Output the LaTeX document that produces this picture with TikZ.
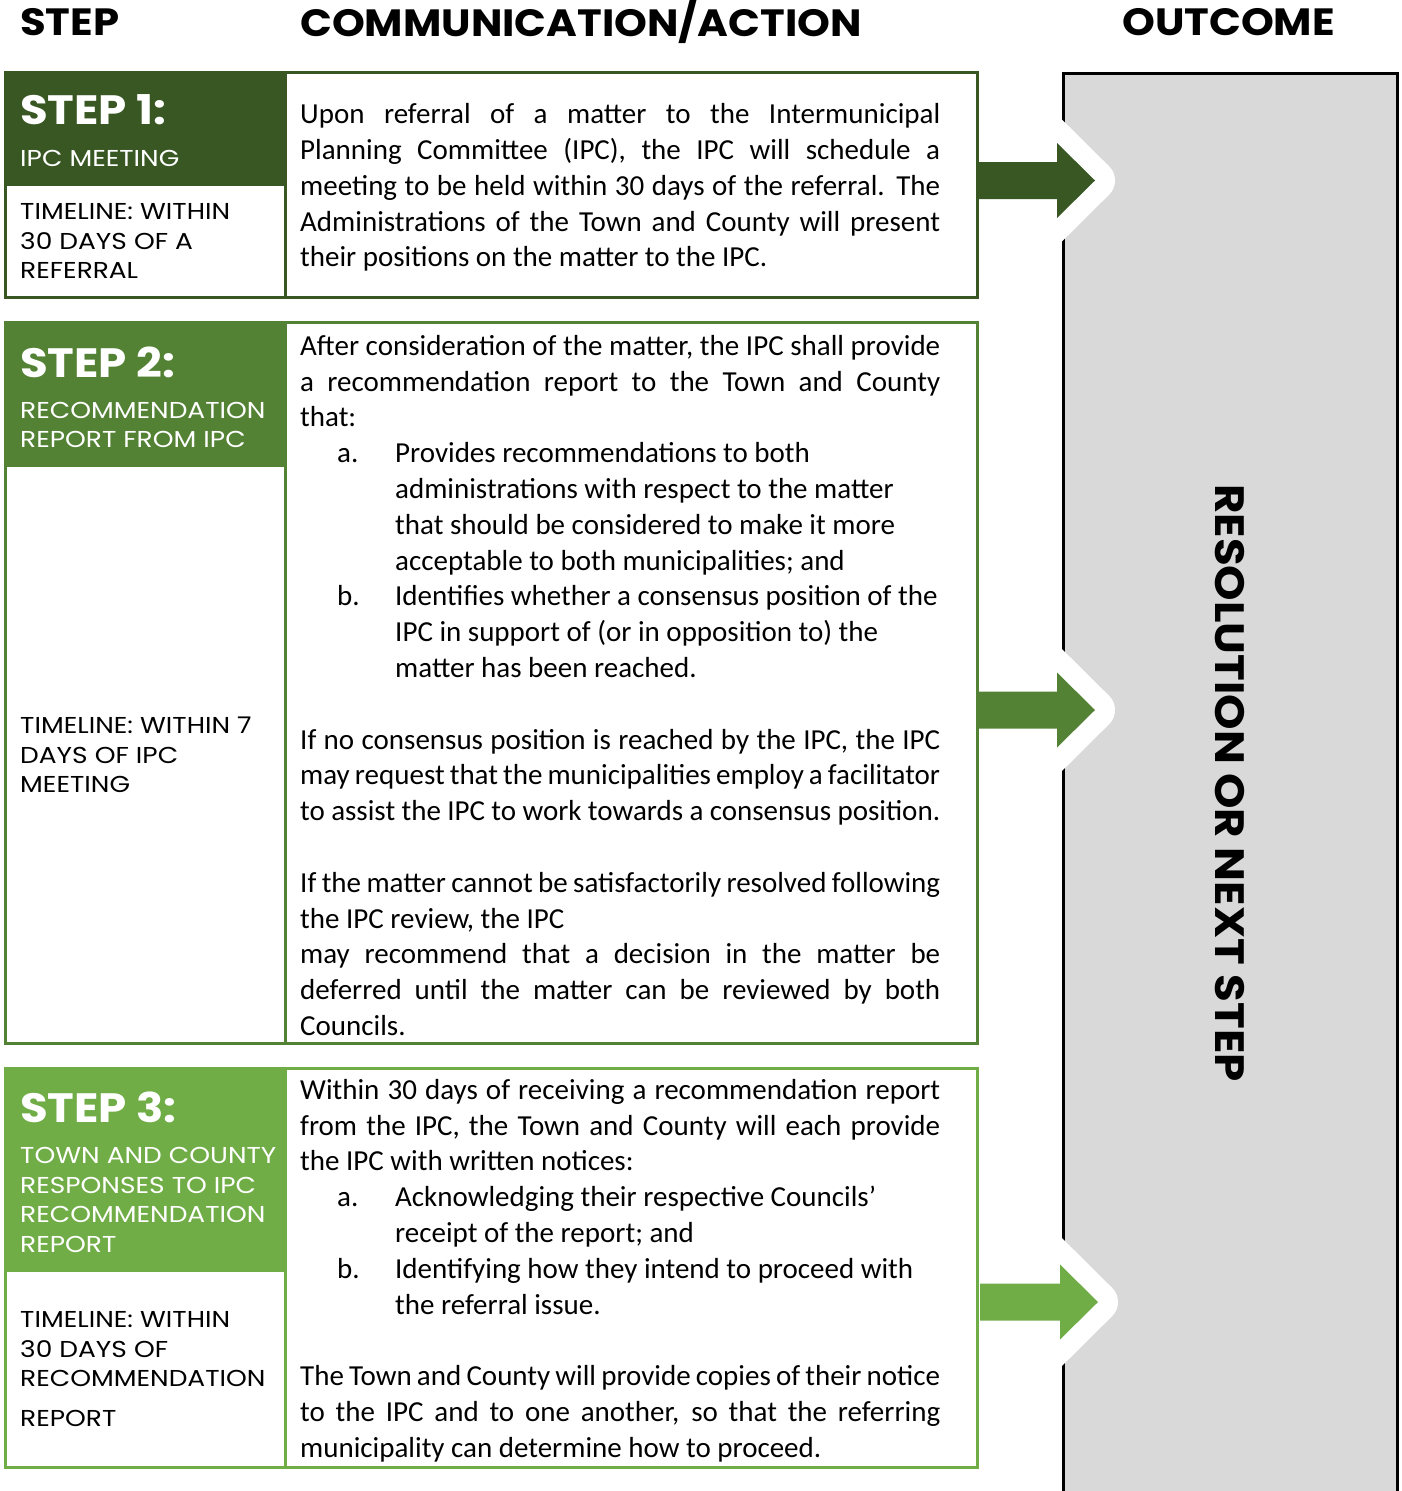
\documentclass[tikz,border=0pt]{standalone}
\usepackage{fontspec}
\setmainfont{Carlito}
\newfontfamily\headfont[FakeStretch=1.1]{Poppins}
\newfontfamily\labelfont[FakeStretch=1.15]{Poppins}
\usetikzlibrary{calc}
\definecolor{stepdark}{HTML}{385723}
\definecolor{stepmid}{HTML}{548235}
\definecolor{steplight}{HTML}{70AD47}
\definecolor{outgray}{HTML}{D9D9D9}

% block arrow leaving a step, with its white halo over the outcome column
\newcommand{\outarrow}[2]{%
  \draw[white,line width=40pt,line join=round]
    ($(#2)+(50,-67.5)$) -- ($(#2)+(118,0)$) -- ($(#2)+(50,67.5)$);
  \fill[#1] (#2) ++(0,-18.5) -- ++(80,0) -- ++(0,-19) -- ++(38,37.5)
    -- ++(-38,37.5) -- ++(0,-19) -- ++(-80,0) -- cycle;}
% lettered item with a hanging indent
\newcommand{\letteritem}[2]{\par\leftskip=95pt\noindent\llap{\makebox[58pt][l]{#1}}#2\par\leftskip=0pt\relax}

\begin{document}
\begin{tikzpicture}[x=1pt,y=-1pt,
  frame/.style={line width=3pt,inner sep=0pt,outer sep=0pt,anchor=north west,minimum width=972pt},
  heading/.style={font=\headfont\bfseries\fontsize{38}{44}\selectfont,anchor=west,inner sep=0pt},
  stepname/.style={font=\headfont\bfseries\fontsize{41}{46}\selectfont,text=white,anchor=west,inner sep=0pt},
  steplabel/.style={font=\labelfont\fontsize{23}{29.5}\selectfont,align=left,anchor=west,inner sep=0pt},
  action/.style={font=\fontsize{29}{35.8}\selectfont,text width=640pt,align=justify,anchor=west,inner sep=0pt}]
  \useasboundingbox (0,0) rectangle (1401,1491);
  % column headings
  \node[heading] (hstep) at (20,22) {STEP};
  \node[heading] (haction) at (300,22) {COMMUNICATION/ACTION};
  \node[heading] (houtcome) at (1122,22) {OUTCOME};
  % outcome column, running off the bottom
  \node[draw=black,line width=3pt,fill=outgray,inner sep=0pt,outer sep=0pt,anchor=north west,
    minimum width=334pt,minimum height=1450pt] (outcome) at (1063,73) {};
  \node[rotate=-90,font=\headfont\bfseries\fontsize{41}{48}\selectfont] (result) at (1230,783)
    {RESOLUTION OR NEXT STEP};

  % step 1
  \node[frame,draw=stepdark,minimum height=225pt] (step1) at (5,72) {};
  \fill[stepdark] (step1.north west) rectangle ($(step1.north west)+(280,114)$);
  \draw[stepdark,line width=3pt] ($(step1.north west)+(280,0)$) -- ($(step1.south west)+(280,0)$);
  \node[stepname] (s1) at (20,110) {STEP 1:};
  \node[steplabel,text=white] (s1name) at (20,158) {IPC MEETING};
  \node[steplabel] (s1time) at (20,241) {TIMELINE: WITHIN\\30 DAYS OF A\\REFERRAL};
  \node[action] (s1text) at ($(step1.west)+(295,3)$) {%
    Upon referral of a matter to the Intermunicipal \linebreak
    Planning Committee (IPC), the IPC will schedule a \linebreak
    meeting to be held within 30 days of the referral. The \linebreak
    Administrations of the Town and County will present \linebreak
    their positions on the matter to the IPC.};
  \coordinate (a1) at ($(step1.east)+(0,-4)$);
  \outarrow{stepdark}{a1}

  % step 2
  \node[frame,draw=stepmid,minimum height=721pt] (step2) at (5,322) {};
  \fill[stepmid] (step2.north west) rectangle ($(step2.north west)+(280,145)$);
  \draw[stepmid,line width=3pt] ($(step2.north west)+(280,0)$) -- ($(step2.south west)+(280,0)$);
  \node[stepname] (s2) at (20,362) {STEP 2:};
  \node[steplabel,text=white] (s2name) at (20,425) {RECOMMENDATION\\REPORT FROM IPC};
  \node[steplabel] (s2time) at (20,755) {TIMELINE: WITHIN 7\\DAYS OF IPC\\MEETING};
  \node[action] (s2text) at ($(step2.west)+(295,3)$) {%
    After consideration of the matter, the IPC shall provide \linebreak
    a recommendation report to the Town and County \linebreak
    that:
    \letteritem{a.}{Provides recommendations to both\\
      administrations with respect to the matter\\
      that should be considered to make it more\\
      acceptable to both municipalities; and}
    \letteritem{b.}{Identifies whether a consensus position of the\\
      IPC in support of (or in opposition to) the\\
      matter has been reached.}
    \vspace{\baselineskip}
    If no consensus position is reached by the IPC, the IPC \linebreak
    may request that the municipalities employ a facilitator \linebreak
    to assist the IPC to work towards a consensus position.\par
    \vspace{\baselineskip}
    If the matter cannot be satisfactorily resolved following \linebreak
    the IPC review, the IPC\\
    may recommend that a decision in the matter be \linebreak
    deferred until the matter can be reviewed by both \linebreak
    Councils.};
  \coordinate (a2) at ($(step2.east)+(0,27.5)$);
  \outarrow{stepmid}{a2}

  % step 3
  \node[frame,draw=steplight,minimum height=399pt] (step3) at (5,1068) {};
  \fill[steplight] (step3.north west) rectangle ($(step3.north west)+(280,204)$);
  \draw[steplight,line width=3pt] ($(step3.north west)+(280,0)$) -- ($(step3.south west)+(280,0)$);
  \node[stepname] (s3) at (20,1107) {STEP 3:};
  \node[steplabel,text=white] (s3name) at (20,1200)
    {TOWN AND COUNTY\\RESPONSES TO IPC\\RECOMMENDATION\\REPORT};
  \node[steplabel] (s3time) at (20,1369)
    {TIMELINE: WITHIN\\30 DAYS OF\\RECOMMENDATION\\[10pt]REPORT};
  \node[action] (s3text) at ($(step3.west)+(295,3)$) {%
    Within 30 days of receiving a recommendation report \linebreak
    from the IPC, the Town and County will each provide \linebreak
    the IPC with written notices:
    \letteritem{a.}{Acknowledging their respective Councils’\\
      receipt of the report; and}
    \letteritem{b.}{Identifying how they intend to proceed with\\
      the referral issue.}
    \vspace{\baselineskip}
    The Town and County will provide copies of their notice \linebreak
    to the IPC and to one another, so that the referring \linebreak
    municipality can determine how to proceed.};
  \coordinate (a3) at ($(step3.east)+(3,34.5)$);
  \outarrow{steplight}{a3}
\end{tikzpicture}
\end{document}
